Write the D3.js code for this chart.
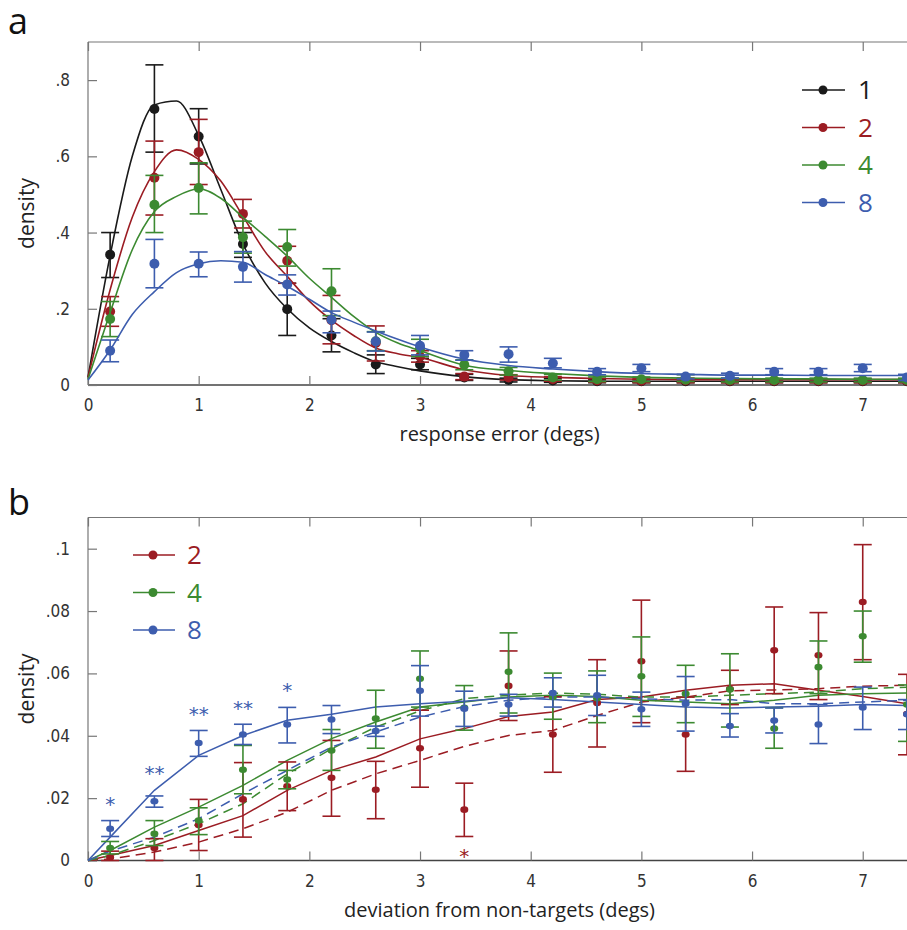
<!DOCTYPE html>
<html><head><meta charset="utf-8">
<script src="https://cdn.jsdelivr.net/npm/d3@7"></script>
<style>
body{margin:0;background:#fff;}
svg{display:block;}
</style></head>
<body>
<script>
// ---------- DATA ----------
const setSizesA = ["1","2","4","8"];
const setSizesB = ["2","4","8"];
const colors = {"1":"#1a1a1a","2":"#9b1c23","4":"#3c8a31","8":"#3d5dae"};

const xPoints = [0.2,0.6,1.0,1.4,1.8,2.2,2.6,3.0,3.4,3.8,4.2,4.6,5.0,5.4,5.8,6.2,6.6,7.0,7.4];
const xTicks = [0,1,2,3,4,5,6,7];
const yTicksA = [0,0.2,0.4,0.6,0.8];
const yTickLabelsA = ["0",".2",".4",".6",".8"];
const yTicksB = [0,0.02,0.04,0.06,0.08,0.1];
const yTickLabelsB = ["0",".02",".04",".06",".08",".1"];

// panel a: observed means and error bounds
const meanA1 = [0.342,0.724,0.652,0.37,0.199,0.13,0.054,0.054,0.02,0.013,0.012,0.01,0.01,0.01,0.01,0.01,0.01,0.01,0.01];
const loA1   = [0.282,0.611,0.58,0.335,0.13,0.087,0.03,0.04,0.012,0.008,0.007,0.006,0.006,0.006,0.006,0.006,0.006,0.006,0.006];
const hiA1   = [0.40,0.84,0.725,0.40,0.267,0.174,0.079,0.07,0.028,0.018,0.017,0.014,0.014,0.014,0.014,0.014,0.014,0.014,0.014];
const meanA2 = [0.193,0.544,0.611,0.449,0.326,0.17,0.11,0.075,0.022,0.02,0.015,0.012,0.011,0.012,0.011,0.011,0.011,0.011,0.011];
const loA2   = [0.154,0.446,0.526,0.412,0.267,0.108,0.063,0.06,0.014,0.013,0.01,0.007,0.006,0.006,0.006,0.006,0.006,0.006,0.006];
const hiA2   = [0.232,0.64,0.697,0.487,0.364,0.235,0.155,0.09,0.03,0.027,0.022,0.017,0.016,0.018,0.016,0.016,0.016,0.016,0.016];
const meanA4 = [0.173,0.473,0.517,0.388,0.362,0.246,0.115,0.095,0.053,0.036,0.02,0.015,0.015,0.014,0.013,0.013,0.013,0.013,0.013];
const loA4   = [0.127,0.40,0.449,0.346,0.312,0.182,0.09,0.075,0.04,0.026,0.013,0.009,0.009,0.009,0.008,0.008,0.008,0.008,0.008];
const hiA4   = [0.219,0.55,0.583,0.43,0.408,0.305,0.14,0.12,0.066,0.046,0.028,0.021,0.021,0.027,0.018,0.018,0.018,0.018,0.018];
const meanA8 = [0.09,0.318,0.318,0.31,0.264,0.171,0.114,0.103,0.079,0.081,0.057,0.035,0.044,0.022,0.024,0.035,0.035,0.044,0.02];
const loA8   = [0.061,0.255,0.284,0.27,0.236,0.137,0.089,0.079,0.065,0.06,0.045,0.027,0.035,0.016,0.018,0.027,0.027,0.035,0.012];
const hiA8   = [0.118,0.382,0.349,0.35,0.289,0.194,0.139,0.13,0.09,0.1,0.07,0.043,0.054,0.028,0.031,0.043,0.043,0.054,0.028];

// panel a: model fits
const xFitA = [0,0.2,0.4,0.6,0.8,1.0,1.2,1.4,1.6,1.8,2.0,2.2,2.4,2.6,2.8,3.0,3.4,3.8,4.2,4.6,5.0,5.4,5.8,6.2,6.6,7.0,7.4];
const fitA1 = [0.02,0.34,0.60,0.735,0.745,0.655,0.513,0.37,0.268,0.20,0.15,0.114,0.085,0.061,0.048,0.037,0.022,0.014,0.011,0.01,0.01,0.01,0.01,0.01,0.01,0.01,0.01];
const fitA2 = [0.02,0.25,0.44,0.56,0.617,0.592,0.535,0.443,0.35,0.285,0.22,0.17,0.13,0.097,0.082,0.072,0.04,0.025,0.02,0.017,0.015,0.014,0.014,0.014,0.014,0.014,0.014];
const fitA4 = [0.015,0.19,0.355,0.455,0.495,0.515,0.49,0.44,0.39,0.338,0.28,0.23,0.18,0.138,0.11,0.09,0.052,0.038,0.03,0.024,0.02,0.018,0.017,0.016,0.016,0.015,0.015];
const fitA8 = [0.013,0.092,0.185,0.245,0.295,0.318,0.326,0.322,0.29,0.259,0.225,0.19,0.165,0.142,0.12,0.1,0.068,0.051,0.042,0.035,0.03,0.028,0.026,0.026,0.025,0.025,0.025];

// panel b: observed means and error bounds
const meanB2 = [0.001,0.004,0.0114,0.0196,0.0238,0.0265,0.0227,0.036,0.0163,0.056,0.0404,0.0505,0.0639,0.0404,0.055,0.0674,0.0658,0.0829,0.047];
const loB2   = [0.0,0.0,0.0032,0.0075,0.016,0.0142,0.0134,0.0235,0.0077,0.0449,0.0283,0.0364,0.0442,0.0286,0.05,0.0535,0.0516,0.0644,0.0339];
const hiB2   = [0.003,0.007,0.0196,0.0314,0.0316,0.0385,0.0318,0.0482,0.0248,0.0672,0.0525,0.0644,0.0835,0.0524,0.061,0.0813,0.0795,0.1013,0.0597];
const meanB4 = [0.004,0.0086,0.0128,0.0291,0.026,0.0353,0.0455,0.0583,0.049,0.0605,0.0524,0.052,0.0591,0.0535,0.0548,0.0423,0.062,0.0719,0.05];
const loB4   = [0.0021,0.0048,0.0083,0.0214,0.023,0.0289,0.036,0.0492,0.0418,0.0473,0.0453,0.0442,0.0462,0.0442,0.0428,0.036,0.0535,0.0636,0.0382];
const hiB4   = [0.0061,0.0128,0.0169,0.0369,0.0289,0.042,0.0546,0.0672,0.0561,0.073,0.0601,0.0608,0.0717,0.0626,0.0663,0.049,0.0704,0.08,0.0563];
const meanB8 = [0.0102,0.019,0.0377,0.0404,0.0436,0.0452,0.0415,0.0544,0.0487,0.05,0.0537,0.053,0.0485,0.0503,0.0431,0.0449,0.0436,0.0491,0.0469];
const loB8   = [0.0077,0.0171,0.0334,0.0372,0.0377,0.0407,0.0398,0.0463,0.043,0.0463,0.0492,0.0465,0.043,0.0415,0.0396,0.0409,0.0375,0.042,0.042];
const hiB8   = [0.0128,0.0207,0.0417,0.0437,0.0491,0.0497,0.0431,0.0625,0.0543,0.0533,0.0586,0.0594,0.054,0.059,0.0471,0.0489,0.05,0.0556,0.0516];

// panel b: model predictions (solid) and null model (dashed)
const xFitB = [0,0.2,0.6,1.0,1.4,1.8,2.2,2.6,3.0,3.4,3.8,4.2,4.6,5.0,5.4,5.8,6.2,6.6,7.0,7.4];
const solidB2 = [0,0.0016,0.0048,0.0096,0.0144,0.0225,0.0289,0.0332,0.039,0.0423,0.0462,0.0476,0.0516,0.0524,0.0546,0.0562,0.0567,0.0546,0.0526,0.0503];
const dashB2  = [0,0.0005,0.0027,0.0059,0.0102,0.0155,0.0225,0.0278,0.0321,0.0366,0.0401,0.0417,0.0465,0.0508,0.0524,0.0544,0.0547,0.0551,0.0559,0.0562];
const solidB4 = [0,0.0032,0.0107,0.0171,0.0241,0.0321,0.0391,0.0444,0.0492,0.0508,0.0524,0.053,0.0526,0.0514,0.0508,0.0503,0.0514,0.053,0.0535,0.0537];
const dashB4  = [0,0.0016,0.0064,0.0118,0.0182,0.0278,0.0358,0.0428,0.048,0.0519,0.053,0.0537,0.0533,0.0524,0.0524,0.053,0.0535,0.054,0.0551,0.0556];
const solidB8 = [0,0.0075,0.0225,0.0337,0.0401,0.045,0.0469,0.0492,0.0503,0.0511,0.0522,0.0516,0.0508,0.05,0.0492,0.0489,0.0492,0.0495,0.05,0.0497];
const dashB8  = [0,0.003,0.0075,0.0134,0.0214,0.0289,0.0364,0.0412,0.046,0.0494,0.0514,0.0524,0.0524,0.0519,0.0514,0.0516,0.0503,0.0503,0.0508,0.0514];

// significance markers (panel b)
const sigX     = [0.2,0.6,1.0,1.4,1.8,3.4];
const sigY     = [0.019,0.029,0.048,0.050,0.0555,0.0025];
const sigText  = ["*","**","**","**","*","*"];
const sigSeries= ["8","8","8","8","8","2"];

// ---------- DRAW ----------
const W = 907, H = 930;
const svg = d3.select("body").append("svg").attr("width",W).attr("height",H);
const tickFont = "'Liberation Sans Narrow','DejaVu Sans Condensed',sans-serif";
const labFont = "'Open Sans','Noto Sans',sans-serif";

const x = d3.scaleLinear().domain([0,7.4]).range([88,907]);

function axes(y, top, bottom, yTicks, yLabels, xTitle, titleY, panelLetter, letterY){
  const g = svg.append("g");
  g.append("line").attr("x1",88).attr("x2",907).attr("y1",bottom).attr("y2",bottom).attr("stroke","#444").attr("stroke-width",1.3);
  g.append("line").attr("x1",88).attr("x2",907).attr("y1",top).attr("y2",top).attr("stroke","#777").attr("stroke-width",1.2);
  g.append("line").attr("x1",88).attr("x2",88).attr("y1",top).attr("y2",bottom).attr("stroke","#777").attr("stroke-width",1.2);
  const bx = d3.axisBottom(x).tickValues(xTicks).tickSize(-9).tickPadding(14).tickFormat(d3.format("d"));
  const gx = g.append("g").attr("transform",`translate(0,${bottom})`).call(bx);
  gx.select(".domain").remove();
  gx.selectAll(".tick line").attr("stroke","#777").attr("stroke-width",1.2);
  gx.selectAll("text").attr("font-family",tickFont).attr("font-size",17).attr("fill","#333");
  const tx = d3.axisTop(x).tickValues(xTicks).tickSize(-9).tickFormat("");
  const gt = g.append("g").attr("transform",`translate(0,${top})`).call(tx);
  gt.select(".domain").remove();
  gt.selectAll(".tick line").attr("stroke","#777").attr("stroke-width",1.2);
  const ay = d3.axisLeft(y).tickValues(yTicks).tickSize(-9).tickPadding(18).tickFormat((d,i)=>yLabels[i]);
  const gy = g.append("g").attr("transform","translate(88,0)").call(ay);
  gy.select(".domain").remove();
  gy.selectAll(".tick line").attr("stroke","#777").attr("stroke-width",1.2);
  gy.selectAll("text").attr("font-family",tickFont).attr("font-size",17).attr("fill","#333");
  g.append("text").attr("x",(88+907)/2+2).attr("y",titleY).attr("text-anchor","middle")
    .attr("font-family",labFont).attr("font-size",20).attr("fill","#222").text(xTitle);
  g.append("text").attr("transform",`translate(34,${(top+bottom)/2}) rotate(-90)`).attr("text-anchor","middle")
    .attr("font-family",labFont).attr("font-size",21).attr("fill","#222").text("density");
  g.append("text").attr("x",8).attr("y",letterY).attr("font-family",labFont).attr("font-size",36).attr("fill","#111").text(panelLetter);
}

// ----- Panel a -----
const yA = d3.scaleLinear().domain([0,0.9]).range([385,42]);
axes(yA, 42, 385, yTicksA, yTickLabelsA, "response error (degs)", 441, "a", 34);

const seriesA = [
  {k:"1", mean:meanA1, lo:loA1, hi:hiA1, fit:fitA1},
  {k:"2", mean:meanA2, lo:loA2, hi:hiA2, fit:fitA2},
  {k:"4", mean:meanA4, lo:loA4, hi:hiA4, fit:fitA4},
  {k:"8", mean:meanA8, lo:loA8, hi:hiA8, fit:fitA8}
];
const lineA = d3.line().x(d=>x(d[0])).y(d=>yA(d[1])).curve(d3.curveMonotoneX);
const gA = svg.append("g");
seriesA.forEach(s=>{
  const c = colors[s.k];
  const g = gA.append("g");
  g.append("path").datum(xFitA.map((v,i)=>[v,s.fit[i]])).attr("d",lineA)
    .attr("fill","none").attr("stroke",c).attr("stroke-width",1.6);
  xPoints.forEach((xv,i)=>{
    const px = x(xv);
    g.append("line").attr("x1",px).attr("x2",px).attr("y1",yA(s.lo[i])).attr("y2",yA(s.hi[i])).attr("stroke",c).attr("stroke-width",1.6);
    [s.lo[i],s.hi[i]].forEach(v=>{
      g.append("line").attr("x1",px-9).attr("x2",px+9).attr("y1",yA(v)).attr("y2",yA(v)).attr("stroke",c).attr("stroke-width",1.6);
    });
    g.append("circle").attr("cx",px).attr("cy",yA(s.mean[i])).attr("r",5).attr("fill",c);
  });
});
// legend a
setSizesA.forEach((k,i)=>{
  const yy = 90 + i*37.5, c = colors[k];
  svg.append("line").attr("x1",802).attr("x2",845).attr("y1",yy).attr("y2",yy).attr("stroke",c).attr("stroke-width",1.6);
  svg.append("circle").attr("cx",823).attr("cy",yy).attr("r",4.5).attr("fill",c);
  svg.append("text").attr("x",858).attr("y",yy+9).attr("font-family",labFont).attr("font-size",26).attr("fill",c).text(k);
});

// ----- Panel b -----
const yB = d3.scaleLinear().domain([0,0.11]).range([860.5,517.5]);
axes(yB, 517.5, 860.5, yTicksB, yTickLabelsB, "deviation from non-targets (degs)", 917, "b", 515);

const seriesB = [
  {k:"2", mean:meanB2, lo:loB2, hi:hiB2, solid:solidB2, dash:dashB2},
  {k:"4", mean:meanB4, lo:loB4, hi:hiB4, solid:solidB4, dash:dashB4},
  {k:"8", mean:meanB8, lo:loB8, hi:hiB8, solid:solidB8, dash:dashB8}
];
const lineB = d3.line().x(d=>x(d[0])).y(d=>yB(d[1]));
const gB = svg.append("g");
seriesB.forEach(s=>{
  const c = colors[s.k];
  gB.append("path").datum(xFitB.map((v,i)=>[v,s.solid[i]])).attr("d",lineB)
    .attr("fill","none").attr("stroke",c).attr("stroke-width",1.5);
  gB.append("path").datum(xFitB.map((v,i)=>[v,s.dash[i]])).attr("d",lineB)
    .attr("fill","none").attr("stroke",c).attr("stroke-width",1.5).attr("stroke-dasharray","10,6");
});
seriesB.forEach(s=>{
  const c = colors[s.k];
  const g = gB.append("g");
  xPoints.forEach((xv,i)=>{
    const px = x(xv);
    g.append("line").attr("x1",px).attr("x2",px).attr("y1",yB(s.lo[i])).attr("y2",yB(s.hi[i])).attr("stroke",c).attr("stroke-width",1.6);
    [s.lo[i],s.hi[i]].forEach(v=>{
      g.append("line").attr("x1",px-9).attr("x2",px+9).attr("y1",yB(v)).attr("y2",yB(v)).attr("stroke",c).attr("stroke-width",1.6);
    });
    g.append("ellipse").attr("cx",px).attr("cy",yB(s.mean[i])).attr("rx",4).attr("ry",3.3).attr("fill",c);
  });
});
// significance asterisks
sigX.forEach((xv,i)=>{
  svg.append("text").attr("x",x(xv)).attr("y",yB(sigY[i])+10).attr("text-anchor","middle")
    .attr("font-family","'DejaVu Sans',sans-serif").attr("font-size",20).attr("fill",colors[sigSeries[i]])
    .text(sigText[i]);
});
// legend b
setSizesB.forEach((k,i)=>{
  const yy = 555 + i*37.5, c = colors[k];
  svg.append("line").attr("x1",133).attr("x2",175).attr("y1",yy).attr("y2",yy).attr("stroke",c).attr("stroke-width",1.6);
  svg.append("circle").attr("cx",153).attr("cy",yy).attr("r",4.5).attr("fill",c);
  svg.append("text").attr("x",187).attr("y",yy+9).attr("font-family",labFont).attr("font-size",26).attr("fill",c).text(k);
});
</script>
</body></html>
